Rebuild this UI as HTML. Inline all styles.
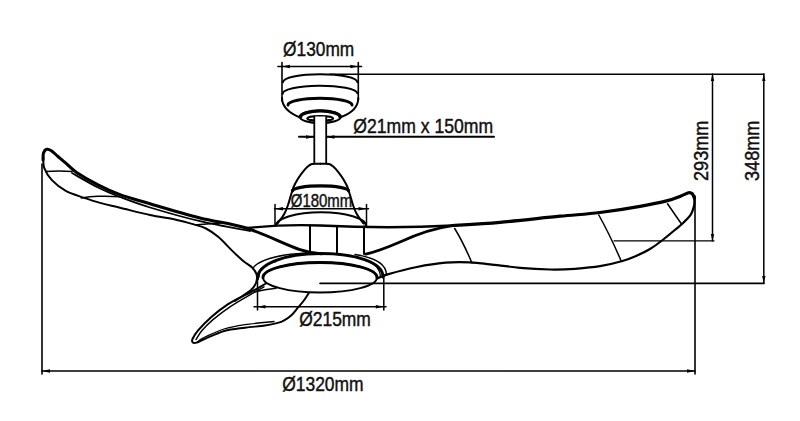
<!DOCTYPE html>
<html><head><meta charset="utf-8"><style>
html,body{margin:0;padding:0;background:#fff;}
svg{display:block;}
text{font-family:"Liberation Sans",sans-serif;fill:#111;}
</style></head><body>
<svg width="800" height="421" viewBox="0 0 800 421">
<defs>
<marker id="ar" viewBox="0 0 10 6" refX="10" refY="3" markerWidth="8" markerHeight="4" orient="auto" markerUnits="userSpaceOnUse"><path d="M0,0 L10,3 L0,6 z" fill="#000"/></marker>
</defs>
<g fill="none" stroke="#000" stroke-linecap="round" stroke-linejoin="round">
<!-- ===== dimension lines ===== -->
<!-- 130 -->
<line x1="278" y1="66.5" x2="361.5" y2="66.5" stroke-width="1.6"/>
<path d="M282,62.5 V101 M358.3,62.5 V100" stroke-width="1.6"/>
<!-- top ext -->
<line x1="330" y1="74.2" x2="764" y2="74.2" stroke-width="1.6"/>
<!-- 293 vertical -->
<line x1="712.5" y1="74" x2="712.5" y2="241" stroke-width="1.5"/>
<line x1="614" y1="240.8" x2="714" y2="240.8" stroke-width="1.3"/>
<!-- 348 vertical -->
<line x1="763.8" y1="74" x2="763.8" y2="283" stroke-width="1.5"/>
<line x1="320" y1="283.4" x2="764" y2="283.4" stroke-width="1.6"/>
<!-- right ext vertical -->
<line x1="695" y1="196" x2="695" y2="374" stroke-width="1.6"/>
<!-- left ext vertical -->
<line x1="42" y1="164" x2="42" y2="374" stroke-width="1.6"/>
<!-- 1320 -->
<line x1="42" y1="371" x2="695" y2="371" stroke-width="1.6"/>
<!-- 21 -->
<line x1="299" y1="136.8" x2="494" y2="136.8" stroke-width="2"/>
<!-- 180 -->
<line x1="274.5" y1="208.8" x2="368.5" y2="208.8" stroke-width="1.5"/>
<path d="M275,204.5 V226 M366.5,204.5 V227" stroke-width="1.5"/>
<!-- 215 -->
<line x1="254" y1="306.8" x2="386" y2="306.8" stroke-width="1.5"/>
<path d="M257.5,277 V310 M383.8,275 V310" stroke-width="1.5"/>

<!-- ===== canopy ===== -->
<path d="M283,82.2 A37.2,8 0 0 1 357.4,82.2" stroke-width="2"/>
<path d="M282.8,93.8 A37.3,7.8 0 0 1 357.4,93.2" stroke-width="2"/>
<path d="M288,105 A32,6.8 0 0 1 352,105" stroke-width="3"/>
<path d="M282,98 C282,106 289,113 300,117.5 M358.3,98 C358.3,106 352,113 341,117" stroke-width="2"/>
<ellipse cx="320.3" cy="116.7" rx="20.6" ry="6.4" stroke-width="2"/>
<path d="M301,116.5 A19.3,5.4 0 0 1 339.6,116.5" stroke-width="3"/>
<ellipse cx="320.2" cy="118.4" rx="13" ry="2.4" stroke-width="2"/>
<!-- downrod -->
<rect x="314.3" y="116.5" width="11.9" height="46.5" fill="#fff" stroke="none"/>
<path d="M314.3,116.5 V163 M326.2,116.5 V163 " stroke-width="1.8"/>
<!-- bell -->
<path d="M320.5,163.8 C319.1,163.8 314.2,163.5 312.0,164.0 C309.8,164.5 309.1,165.4 307.5,166.8 C305.9,168.2 304.1,170.3 302.5,172.3 C300.9,174.3 299.2,176.6 297.8,179.0 C296.4,181.4 295.0,183.7 293.8,186.5 C292.6,189.3 291.8,192.5 290.8,195.6 C289.8,198.7 289.1,202.0 288.0,205.0 C286.9,208.0 286.2,210.4 284.5,213.5 C282.8,216.6 278.7,221.8 277.5,223.5" stroke-width="2"/>
<path d="M320.5,163.8 C321.9,163.8 326.8,163.5 329.0,164.0 C331.2,164.5 331.9,165.4 333.5,166.8 C335.1,168.2 336.9,170.3 338.5,172.3 C340.1,174.3 341.8,176.6 343.2,179.0 C344.6,181.4 346.0,183.7 347.2,186.5 C348.4,189.3 349.2,192.5 350.2,195.6 C351.2,198.7 351.9,202.0 353.0,205.0 C354.1,208.0 354.8,210.4 356.5,213.5 C358.2,216.6 362.3,221.8 363.5,223.5" stroke-width="2"/>
<path d="M292.5,190.8 A28,5 0 0 1 348.5,190.8" stroke-width="3.3"/>
<path d="M276,225.5 A45,13.2 0 0 1 366,225.5" stroke-width="2"/>
<!-- hub verticals -->
<path d="M310,225.5 V251 M337,226 V252.5 M364,226.5 V254" stroke-width="2"/>

<!-- ===== upper-left blade ===== -->
<path d="M43.0,160.0 C43.1,158.8 42.9,154.8 43.5,153.0 C44.1,151.2 45.2,149.7 46.5,149.3 C47.8,148.9 49.1,149.3 51.0,150.5 C52.9,151.7 55.5,154.4 58.0,156.5 C60.5,158.6 62.7,160.4 65.8,163.1 C68.9,165.8 71.2,168.8 76.6,172.4 C82.0,176.0 90.8,181.1 98.0,184.8 C105.2,188.5 111.3,191.4 120.0,194.6 C128.7,197.8 136.7,199.8 150.0,203.8 C163.3,207.7 183.8,213.9 200.0,218.0 C216.2,222.1 230.3,223.0 247.0,228.3 C263.7,233.6 287.5,245.4 300.0,249.7 C312.5,253.9 318.3,253.1 322.0,253.8" stroke-width="3"/>
<path d="M72.0,173.0 C76.3,175.4 90.0,183.5 98.0,187.5 C106.0,191.5 111.3,193.7 120.0,197.0 C128.7,200.3 136.7,203.5 150.0,207.5 C163.3,211.5 183.3,217.3 200.0,221.2 C216.7,225.2 241.7,229.4 250.0,231.0" stroke-width="1.8"/>
<path d="M43.4,157.0 C43.5,158.8 42.8,164.0 44.2,167.8 C45.6,171.7 48.3,176.2 51.9,180.1 C55.5,183.9 60.4,187.9 65.8,190.9 C71.2,193.9 78.6,195.9 84.3,197.9 C90.0,199.9 94.0,201.3 100.0,202.9 C106.0,204.5 111.7,205.7 120.0,207.7 C128.3,209.7 140.8,213.0 150.0,215.0 C159.2,217.0 167.7,217.9 175.0,219.5 C182.3,221.1 188.6,222.9 193.8,224.4 C198.9,225.9 201.9,226.4 206.0,228.5 C210.1,230.6 214.2,233.4 218.5,237.1 C222.8,240.8 227.7,246.4 231.8,250.4 C235.9,254.4 239.8,258.0 243.2,260.9 C246.6,263.8 249.9,265.3 252.1,267.5 C254.3,269.7 255.6,271.9 256.4,273.9 C257.2,275.8 257.1,277.4 256.9,279.2 C256.7,281.0 256.3,282.8 255.3,284.6 C254.3,286.4 253.0,288.1 251.0,289.9 C249.0,291.7 246.2,293.4 243.5,295.3 C240.8,297.2 236.4,300.1 235.0,301.0" stroke-width="2"/>
<path d="M45.7,171.6 Q58,170.5 72,171.5 M81.2,197.9 Q90,196.5 98,196.3 Q110,196 120,196.8 M196.7,224.7 L220.7,222.9" stroke-width="1.5"/>
<!-- hub top line -->
<path d="M247,228 C270,225.5 290,224.5 320,225.5 C350,227 400,228.5 452.5,225.5" stroke-width="2.3"/>
<path d="M452.5,225.5 C460.4,225.0 482.1,223.9 500.0,222.3 C517.9,220.8 543.3,217.8 560.0,216.2 C576.7,214.6 586.7,214.2 600.0,212.5 C613.3,210.8 628.8,208.3 640.0,206.3 C651.2,204.3 660.7,202.3 667.5,200.6 C674.3,198.9 677.5,197.3 681.0,196.0 C684.5,194.7 686.6,193.2 688.5,192.8 C690.4,192.4 691.3,192.9 692.3,193.8 C693.3,194.7 694.0,197.3 694.3,198.0" stroke-width="3.2"/>
<!-- right blade -->
<path d="M365.7,254.2 C375,252 385,248.5 400,242 C420,233 435,228 452.6,225.7" stroke-width="2.8"/>
<path d="M694.3,198.0 C694.3,199.2 694.5,202.9 694.2,205.0 C693.9,207.1 693.3,208.7 692.6,210.5 C691.9,212.3 691.8,213.6 690.0,215.8 C688.2,218.1 684.5,221.6 682.0,224.0 C679.5,226.4 678.1,227.2 674.8,230.0 C671.5,232.8 666.1,237.3 662.0,240.5 C657.9,243.7 654.3,246.4 650.0,249.0 C645.7,251.6 640.6,254.0 636.0,256.0 C631.4,258.0 628.5,259.3 622.5,261.0 C616.5,262.7 607.9,264.9 600.0,266.2 C592.1,267.5 583.3,268.2 575.0,268.8 C566.7,269.4 559.2,269.7 550.0,269.5 C540.8,269.3 530.0,268.7 520.0,267.8 C510.0,266.9 498.3,265.2 490.0,264.3 C481.7,263.4 477.4,262.7 470.0,262.4 C462.6,262.1 454.3,261.9 445.5,262.7 C436.7,263.5 426.5,265.1 417.0,267.0 C407.5,268.9 395.2,272.2 388.5,274.1 C381.8,276.0 378.9,277.8 377.0,278.5" stroke-width="2.2"/>
<path d="M454.7,228.5 Q463,242 472,263 M598.8,215 Q610,235 621.3,261.3 M667.5,203.8 L681.3,223.8" stroke-width="1.5"/>

<!-- ===== LED disc ===== -->
<path d="M252.8,268.5 C256,263 268,258 285,255 C295,253.5 305,253 315,252.5 M355,254.5 C372,257 386.5,263 386.5,275" stroke-width="1.4"/>
<path d="M257.5,279 C257,264 285,253.6 320,253.6 C355,253.6 383,262 383,277" stroke-width="3"/>
<path d="M259,277 C259,269 265,264 276,261.5 M366,261 C376,264 380,269 380.5,277" stroke-width="1.3"/>
<ellipse cx="320" cy="277.5" rx="57" ry="15" stroke-width="2"/>
<path d="M263,277.5 A57,15 0 0 1 377,277.5" stroke-width="3"/>

<!-- ===== lower-left blade ===== -->
<path d="M266.0,283.5 C263.5,284.9 254.9,289.9 251.0,292.0 C247.1,294.1 246.3,294.3 242.5,296.3 C238.7,298.3 233.3,300.7 228.1,304.2 C222.9,307.7 216.1,312.8 211.1,317.2 C206.1,321.6 201.2,326.7 198.1,330.3 C195.0,333.9 193.4,337.0 192.5,339.0 C191.6,341.0 192.1,341.9 192.8,342.5 C193.5,343.1 194.5,343.2 196.5,342.6 C198.5,342.0 200.0,340.9 204.6,339.0 C209.2,337.1 217.5,332.9 224.2,331.0 C230.9,329.1 238.2,328.6 245.0,327.7 C251.8,326.8 259.5,326.4 265.0,325.6 C270.5,324.8 274.6,323.8 277.8,322.9 C281.0,322.0 281.9,321.6 284.2,320.3 C286.5,319.0 289.4,317.0 291.7,314.9 C294.0,312.8 296.1,309.7 298.1,307.4 C300.1,305.1 301.7,303.4 303.5,301.0 C305.3,298.6 307.9,294.3 308.8,293.0" stroke-width="2"/>
<path d="M264.0,286.8 C261.7,288.1 255.7,291.5 250.0,294.8 C244.3,298.1 236.2,302.7 230.0,306.8 C223.8,310.9 217.7,315.7 213.0,319.6 C208.3,323.6 204.8,327.2 202.0,330.5 C199.2,333.8 197.0,338.0 196.0,339.5" stroke-width="1.4"/>
<path d="M199.0,340.5 C200.2,339.8 201.8,338.4 206.0,336.5 C210.2,334.6 217.5,331.0 224.0,329.0 C230.5,327.0 236.7,325.9 245.0,324.6 C253.3,323.4 269.2,322.0 274.0,321.5" stroke-width="1.3"/>
<path d="M254.2,292 C262,290 268,289 276,288.3" stroke-width="1.5"/>
</g>
<!-- arrowheads -->
<g fill="#000">
<path d="M282,66.5 L290,64.8 L290,68.2 z"/>
<path d="M358.3,66.5 L350.3,64.8 L350.3,68.2 z"/>
<path d="M712.5,74 L710.8,81 L714.2,81 z"/>
<path d="M712.5,241 L710.8,234 L714.2,234 z"/>
<path d="M763.8,74 L762.1,81 L765.5,81 z"/>
<path d="M763.8,283 L762.1,276 L765.5,276 z"/>
<path d="M42,371 L50,369.3 L50,372.7 z"/>
<path d="M695,371 L687,369.3 L687,372.7 z"/>
<path d="M314.3,137 L306,135.3 L306,138.7 z"/>
<path d="M326.2,137 L334.5,135.3 L334.5,138.7 z"/>
<path d="M275,208.8 L283,207.1 L283,210.5 z"/>
<path d="M366.5,208.8 L358.5,207.1 L358.5,210.5 z"/>
<path d="M257.5,306.8 L265.5,305.1 L265.5,308.5 z"/>
<path d="M383.8,306.8 L375.8,305.1 L375.8,308.5 z"/>
</g>
<!-- text -->
<g font-size="20" stroke="#111" stroke-width="0.45">
<text transform="translate(283.1,55.8) scale(0.865,1)">Ø130mm</text>
<text transform="translate(353.3,133) scale(0.881,1)">Ø21mm x 150mm</text>
<text font-size="18.3" transform="translate(290.8,206.5) scale(0.816,1)">Ø180mm</text>
<text transform="translate(299.2,326.1) scale(0.8725,1)">Ø215mm</text>
<text transform="translate(282.2,391.2) scale(0.8725,1)">Ø1320mm</text>
<text transform="translate(708.2,181) rotate(-90) scale(0.906,1)">293mm</text>
<text transform="translate(759,181) rotate(-90) scale(0.906,1)">348mm</text>
</g>
</svg>
</body></html>
